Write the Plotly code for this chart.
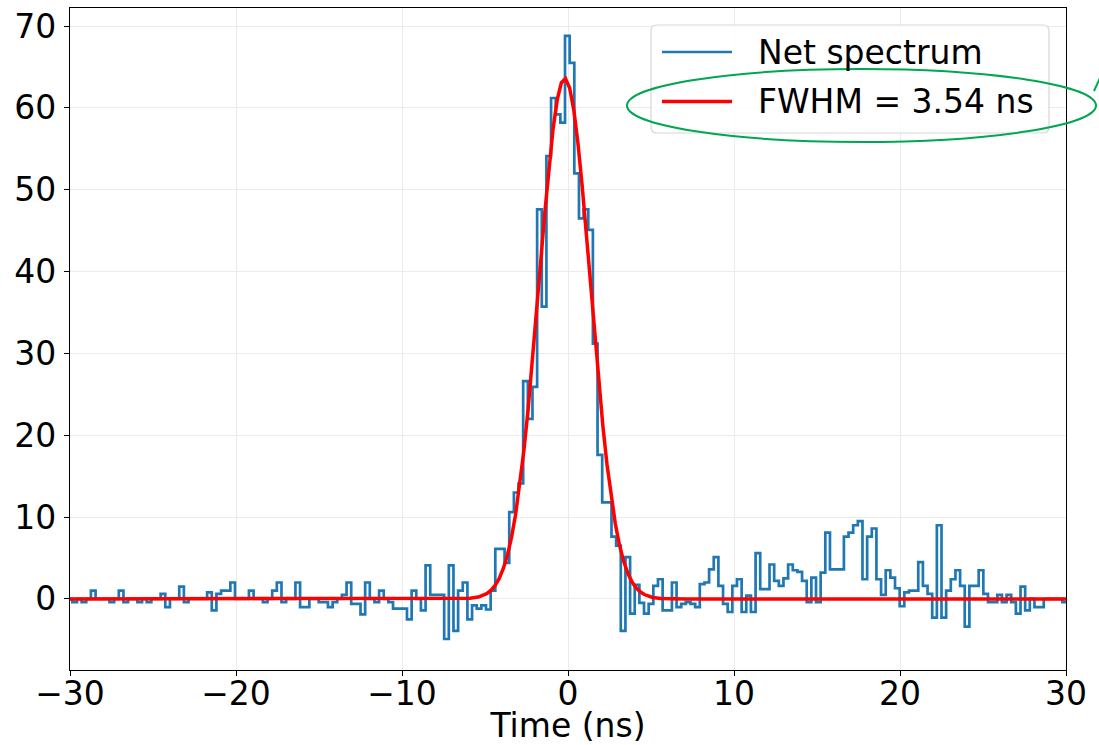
import plotly.graph_objects as go

# histogram of the net spectrum: bin width and first bin centre (ns)
bin_width = 0.28
first_bin = -30.0

# counts per bin, split in three parts: left baseline, peak, right tail
net_left = [
    0, -0.4, 0, -0.4, 0, 1.0, 0, 0, 0, -0.4,
    0, 1.0, -0.4, 0, 0, -0.4, 0, -0.4, 0, 0,
    0.6, -1.0, 0, 0, 1.5, -0.4, 0, 0, 0, 0,
    0.8, -1.4, 0.6, 1.0, 1.0, 2.0, 0, 0, 0, 1.0,
    0, 0, -0.4, 0, 1.0, 2.0, -0.4, 0, 0, 2.0,
    -1.0, -1.0, 0, 0, -0.4, -0.4, -1.0, -0.4, 0, 0.5,
    2.0, -0.6, -0.6, -1.9, 2.0, 0, -0.4, 1.0, 0, -0.4,
    -1.2, -1.2, -1.2, -2.5, 1.0, 0, -1.4, 4.1, 0.5, 0.5,
    0.5, -4.9, 4.1, -3.9, 1.0, 2.0,
]
net_peak = [
    -2.5, -0.8, -1.2, -0.8, -1.3, 1.0, 6.1, 6.1, 4.4, 10.6,
    13.0, 14.1, 26.6, 22.0, 25.9, 47.6, 35.7, 54.1, 61.2, 59.2,
    58.2, 68.8, 65.5, 52.0, 46.5, 47.6, 45.1, 31.2, 17.6, 11.8,
    11.8, 7.6, 6.5, -3.9, 5.1, -1.8, 1.7, -0.5, -1.8, -0.6,
    1.6, 2.4, -1.4, -1.4, 2.0,
]
net_right = [
    -1.0, -0.6, -0.4, -0.6, -1.0, 1.8, 2.0, 3.6, 5.1, 1.6,
    -0.6, -1.6, 1.6, 2.4, -1.6, 0.4, -1.6, 5.6, 1.2, 1.2,
    4.2, 2.2, 1.6, 2.5, 4.2, 3.5, 3.3, 2.2, -0.4, 2.6,
    -0.4, 3.2, 8.1, 3.6, 3.6, 3.6, 7.6, 8.1, 9.0, 9.5,
    2.4, 7.6, 8.6, 2.4, 0.5, 3.5, 2.6, 1.3, -0.9, 0.8,
    1.0, 1.0, 4.5, 1.6, 0.6, -2.3, 9.0, -2.3, 1.0, 2.4,
    3.5, 1.6, -3.4, 1.6, 1.6, 3.5, 0.6, -0.4, -0.4, 0.5,
    -0.4, 0.5, -0.4, -1.8, 1.5, -1.4, 0, -1.0, -1.0, 0,
    0, 0, 0, -0.4, -0.4,
]

# gaussian fit curve
fit_t = [-30, -6.9, -5.9, -5.4, -4.9, -4.65, -4.4, -4.15, -3.9, -3.65, -3.4,
         -3.15, -2.9, -2.65, -2.4, -2.15, -1.9, -1.65, -1.4, -1.15, -0.9,
         -0.65, -0.4, -0.15, 0.1, 0.35, 0.6, 0.85, 1.1, 1.35, 1.6, 1.85, 2.1,
         2.35, 2.6, 2.85, 3.1, 3.35, 3.6, 3.85, 4.1, 4.35, 4.6, 5.1, 5.6, 6.1,
         7.1, 30]
fit_y = [0, 0, 0.07, 0.23, 0.64, 1.03, 1.62, 2.47, 3.68, 5.34, 7.55, 10.40,
         13.95, 18.24, 23.23, 28.82, 34.85, 41.06, 47.13, 52.71, 57.43, 60.97,
         63.07, 63.57, 62.42, 59.72, 55.67, 50.56, 44.74, 38.57, 32.40, 26.52,
         21.15, 16.43, 12.44, 9.18, 6.60, 4.62, 3.15, 2.09, 1.36, 0.86, 0.53,
         0.18, 0.06, 0.02, 0, 0]

legend_labels = ["Net spectrum", "FWHM = 3.54 ns"]

counts = net_left + net_peak + net_right
centres = [first_bin + bin_width * i for i in range(len(counts))]

BLUE = "#1f77b4"
RED = "#ff0000"
GREEN = "#00a651"
FONT = "DejaVu Sans"
FS = 33

fig = go.Figure()
fig.add_trace(go.Scatter(
    x=centres, y=counts, mode="lines", line_shape="hvh",
    line=dict(color=BLUE, width=2.7), name=legend_labels[0], showlegend=False,
))
fig.add_trace(go.Scatter(
    x=fit_t, y=fit_y, mode="lines",
    line=dict(color=RED, width=3.5), name=legend_labels[1], showlegend=False,
))

axis_style = dict(
    showgrid=True, gridcolor="#ebebeb", gridwidth=1,
    zeroline=False, showline=True, linecolor="black", linewidth=1.2,
    mirror=True, ticks="outside", ticklen=5, tickwidth=1.2, tickcolor="black",
    tickfont=dict(size=FS, color="black", family=FONT),
)
fig.update_xaxes(range=[-30, 30], dtick=10, ticklabelstandoff=-11, **axis_style,
                 title=dict(text="Time (ns)", font=dict(size=FS, family=FONT, color="black"),
                            standoff=4))
fig.update_yaxes(range=[-8.69, 72.2], dtick=10, ticklabelstandoff=1, **axis_style)

# hand-built legend (matplotlib style, rounded frame)
W, H = 996.0, 662.0  # plot area in px
def px(x, y):
    return (x - 70) / W, (670 - y) / H

x0, y0 = px(651, 133)
x1, y1 = px(1049, 25)
rx, ry = 6 / W, 6 / H
frame = (f"M{x0+rx},{y1} L{x1-rx},{y1} Q{x1},{y1} {x1},{y1-ry} "
         f"L{x1},{y0+ry} Q{x1},{y0} {x1-rx},{y0} L{x0+rx},{y0} "
         f"Q{x0},{y0} {x0},{y0+ry} L{x0},{y1-ry} Q{x0},{y1} {x0+rx},{y1} Z")
fig.add_shape(type="path", path=frame, xref="paper", yref="paper",
              fillcolor="rgba(255,255,255,0.8)", line=dict(color="rgba(204,204,204,0.8)", width=1.2))

for label, colour, y in zip(legend_labels, [BLUE, RED], [52, 101.5]):
    lx0, ly = px(662, y)
    lx1, _ = px(732, y)
    fig.add_shape(type="line", xref="paper", yref="paper", x0=lx0, x1=lx1, y0=ly, y1=ly,
                  line=dict(color=colour, width=3.5 if colour == RED else 2.7))
    tx, _ = px(756, y)
    fig.add_annotation(x=tx, y=ly, xref="paper", yref="paper", text=label,
                       showarrow=False, xanchor="left", yanchor="middle",
                       font=dict(size=FS, family=FONT, color="black"))

# green highlight around the fit entry
ex0, ey0 = px(627, 142)
ex1, ey1 = px(1096, 69)
fig.add_shape(type="circle", xref="paper", yref="paper", x0=ex0, x1=ex1, y0=ey0, y1=ey1,
              line=dict(color=GREEN, width=2))
sx0, sy0 = px(1094, 91)
sx1, sy1 = px(1100, 78)
fig.add_shape(type="line", xref="paper", yref="paper", x0=sx0, x1=sx1, y0=sy0, y1=sy1,
              line=dict(color=GREEN, width=2))

fig.update_layout(
    width=1099, height=745,
    margin=dict(l=70, r=33, t=8, b=75, autoexpand=False),
    plot_bgcolor="white", paper_bgcolor="white",
    font=dict(family=FONT, size=FS, color="black"),
    showlegend=False,
)

fig.write_html(
    "out.html",
    config={"displayModeBar": False},
    post_script="document.body.style.margin='0';document.body.style.overflow='hidden';",
)
